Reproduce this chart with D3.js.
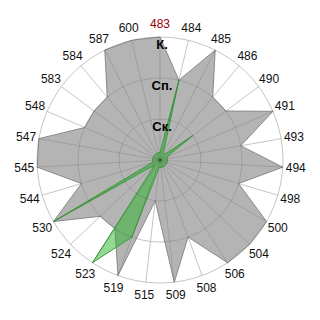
<!doctype html>
<html>
<head>
  <meta charset="utf-8">
  <title>Polar chart</title>
  <style>
  html, body { margin: 0; padding: 0; background: #fff; }
  #vis { width: 320px; height: 320px; }
  text { font-family: "Liberation Sans", Arial, sans-serif; }
  </style>
</head>
<body>
  <div id="vis"></div>
  <script src="https://d3js.org/d3.v7.min.js"></script>
  <script>
  var categories = ['483', '484', '485', '486', '490', '491', '493', '494', '498', '500',
    '504', '506', '508', '509', '515', '519', '523', '524', '530', '544',
    '545', '547', '548', '583', '584', '587', '600'];
  var greyValues = [3, 2, 3, 2, 2, 3, 2, 3, 2, 3,
    3, 3, 2, 3, 1, 3, 2, 2, 3, 2,
    3, 3, 2, 2, 2, 3, 3];
  var greenValues = [0.18, 2, 0.18, 0.18, 1, 0.18, 0.18, 0.18, 0.18, 0.18,
    0.18, 0.18, 0.18, 0.18, 0.18, 2, 3, 0.18, 3, 0.18,
    0.18, 0.18, 0.18, 0.18, 0.18, 0.18, 0.18];
  var levelValues = [1, 2, 3];
  var levelLabels = ['Ск.', 'Сп.', 'К.'];

  var width = 320, height = 320;
  var cx = 160, cy = 160, radius = 123;

  var svg = d3.select('#vis').append('svg')
    .attr('width', width)
    .attr('height', height);

  var angle = d3.scaleBand()
    .domain(categories)
    .range([0, 2 * Math.PI])
    .paddingInner(0)
    .align(0);

  var r = d3.scaleLinear().domain([0, 3]).range([0, radius]);

  var g = svg.append('g').attr('transform', 'translate(' + cx + ',' + cy + ')');

  var line = d3.lineRadial()
    .angle(function(d, i){ return angle(categories[i]); })
    .radius(function(d){ return r(d); })
    .curve(d3.curveLinearClosed);

  // light grid under everything (visible outside the series)
  function drawGrid(color){
    var grid = g.append('g');
    grid.selectAll('line').data(categories).enter().append('line')
      .attr('x1', 0).attr('y1', 0)
      .attr('x2', function(d){ return r(3) * Math.sin(angle(d)); })
      .attr('y2', function(d){ return -r(3) * Math.cos(angle(d)); })
      .attr('stroke', color)
      .attr('stroke-width', 1);
    grid.selectAll('circle').data(levelValues).enter().append('circle')
      .attr('r', function(d){ return r(d); })
      .attr('fill', 'none')
      .attr('stroke', color)
      .attr('stroke-width', 1);
  }

  drawGrid('#e2e2e2');

  g.append('path')
    .attr('d', line(greyValues))
    .attr('fill', '#b4b4b4')
    .attr('stroke', '#8a8a8a')
    .attr('stroke-width', 1);

  g.append('path')
    .attr('d', line(greenValues))
    .attr('fill', 'rgba(40,180,40,0.5)')
    .attr('stroke', '#3e9e3e')
    .attr('stroke-width', 1);

  drawGrid('rgba(0,0,0,0.12)');

  // level labels
  g.selectAll('.level').data(levelValues).enter().append('text')
    .attr('class', 'level')
    .attr('x', 2)
    .attr('y', function(d){ return -r(d) + 12; })
    .attr('text-anchor', 'middle')
    .attr('font-size', '13px')
    .attr('font-weight', 'bold')
    .attr('fill', '#000')
    .text(function(d, i){ return levelLabels[i]; });

  // category labels
  var labelR = radius + 13;
  g.selectAll('.cat').data(categories).enter().append('text')
    .attr('class', 'cat')
    .attr('x', function(d){ return labelR * Math.sin(angle(d)); })
    .attr('y', function(d){ return -labelR * Math.cos(angle(d)); })
    .attr('dy', '0.35em')
    .attr('text-anchor', 'middle')
    .attr('font-size', '12px')
    .attr('fill', function(d, i){ return i === 0 ? '#990000' : '#111'; })
    .text(function(d){ return d; });
  </script>
</body>
</html>
